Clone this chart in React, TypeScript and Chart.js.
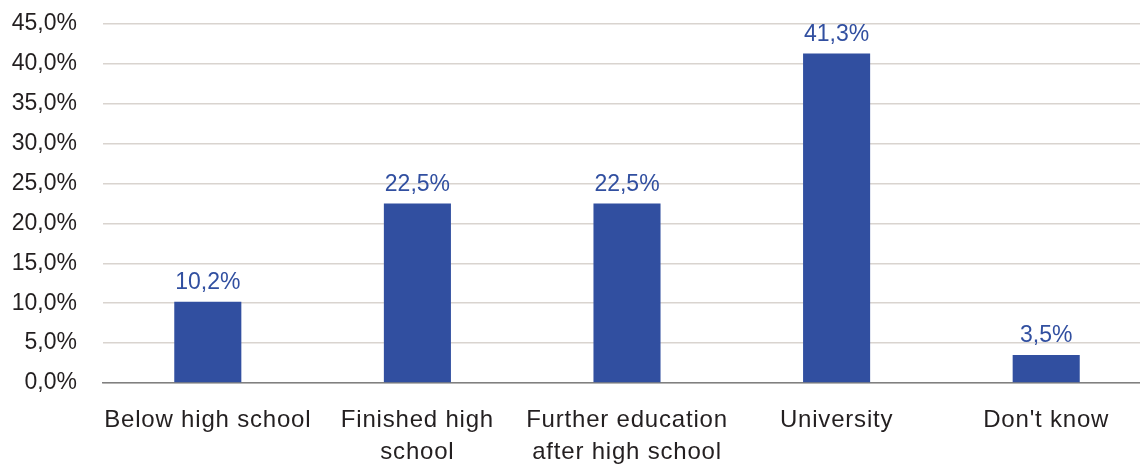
import React, { useEffect, useRef } from "react";
import { Chart, registerables } from "chart.js";

Chart.register(...registerables);

const categories: (string | string[])[] = [
  "Below high school",
  ["Finished high", "school"],
  ["Further education", "after high school"],
  "University",
  "Don't know",
];
const shares: number[] = [10.2, 22.5, 22.5, 41.3, 3.5];
const yMin = 0;
const yMax = 45;
const yStep = 5;

const BAR_COLOR = "#314fa0";
const TEXT_COLOR = "#231f20";
const GRID_COLOR = "#d9d4cf";
const AXIS_COLOR = "#808080";

const fmt = (v: number) => v.toFixed(1).replace(".", ",") + "%";

const valueLabels = {
  id: "valueLabels",
  afterDatasetsDraw(chart: any) {
    const ctx = chart.ctx;
    const meta = chart.getDatasetMeta(0);
    ctx.save();
    ctx.font = "23px 'Liberation Sans', Arial, sans-serif";
    ctx.fillStyle = BAR_COLOR;
    ctx.textAlign = "center";
    ctx.textBaseline = "alphabetic";
    meta.data.forEach((bar: any, i: number) => {
      ctx.fillText(fmt(shares[i]), bar.x, bar.y - 13);
    });
    ctx.restore();
    // x tick labels (drawn after datasets, z:1) get a little letter spacing
    try {
      (ctx as any).letterSpacing = "0.8px";
    } catch (e) {}
  },
  afterDraw(chart: any) {
    try {
      (chart.ctx as any).letterSpacing = "0px";
    } catch (e) {}
  },
};

export default function App() {
  const ref = useRef<HTMLCanvasElement>(null);
  useEffect(() => {
    if (!ref.current) return;
    const chart = new Chart(ref.current, {
      type: "bar",
      data: {
        labels: categories as any,
        datasets: [
          {
            data: shares,
            backgroundColor: BAR_COLOR,
            borderWidth: 0,
            barPercentage: 0.32,
            categoryPercentage: 1,
          },
        ],
      },
      options: {
        animation: false,
        responsive: false,
        maintainAspectRatio: false,
        layout: { padding: { top: 24, right: 1, bottom: 0, left: 0 } },
        plugins: {
          legend: { display: false },
          tooltip: { enabled: false },
        },
        scales: {
          x: {
            grid: { display: false, drawTicks: false },
            border: { display: true, color: AXIS_COLOR, width: 1.5 },
            ticks: {
              z: 1,
              color: TEXT_COLOR,
              padding: 21,
              autoSkip: false,
              maxRotation: 0,
              minRotation: 0,
              font: { family: "'Liberation Sans', Arial, sans-serif", size: 24, lineHeight: 1.35 },
            },
            afterFit: (scale: any) => {
              scale.height = 83;
              scale.paddingLeft = 0;
              scale.paddingRight = 0;
            },
          },
          y: {
            min: yMin,
            max: yMax,
            grid: { color: GRID_COLOR, lineWidth: 1.5, drawTicks: false },
            border: { display: false },
            ticks: {
              stepSize: yStep,
              color: TEXT_COLOR,
              padding: 26,
              font: { family: "'Liberation Sans', Arial, sans-serif", size: 23 },
              callback: (v: any) => fmt(Number(v)),
            },
            afterFit: (scale: any) => {
              scale.width = 103;
              scale.paddingTop = 0;
              scale.paddingBottom = 0;
            },
          },
        },
      },
      plugins: [valueLabels],
    });
    return () => chart.destroy();
  }, []);
  return (
    <div
      style={{
        position: "fixed",
        left: 0,
        top: 0,
        width: 1140,
        height: 466,
        overflow: "hidden",
        background: "#fff",
      }}
    >
      <canvas ref={ref} width={1152} height={466} style={{ display: "block" }} />
    </div>
  );
}
